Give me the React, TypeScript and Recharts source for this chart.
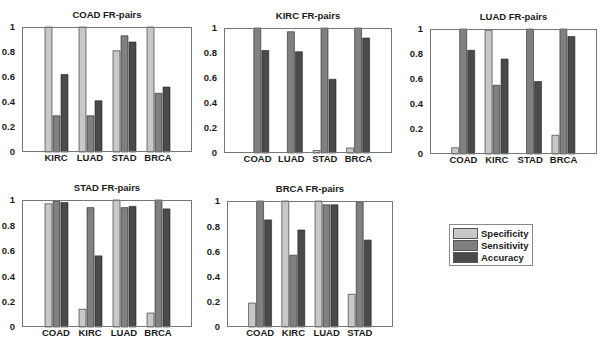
import { BarChart, Bar, XAxis, YAxis } from "recharts";

// one array per panel: [specificity, sensitivity, accuracy] for each paired cancer
const coadPairs = ["KIRC", "LUAD", "STAD", "BRCA"];
const coadSpecificity = [1, 1, 0.81, 1];
const coadSensitivity = [0.29, 0.29, 0.93, 0.47];
const coadAccuracy = [0.62, 0.41, 0.88, 0.52];

const kircPairs = ["COAD", "LUAD", "STAD", "BRCA"];
const kircSpecificity = [0, 0, 0.02, 0.04];
const kircSensitivity = [1, 0.97, 1, 1];
const kircAccuracy = [0.82, 0.81, 0.59, 0.92];

const luadPairs = ["COAD", "KIRC", "STAD", "BRCA"];
const luadSpecificity = [0.05, 0.99, 0, 0.15];
const luadSensitivity = [1, 0.55, 1, 1];
const luadAccuracy = [0.83, 0.76, 0.58, 0.94];

const stadPairs = ["COAD", "KIRC", "LUAD", "BRCA"];
const stadSpecificity = [0.97, 0.14, 1, 0.11];
const stadSensitivity = [0.99, 0.94, 0.94, 1];
const stadAccuracy = [0.98, 0.56, 0.95, 0.93];

const brcaPairs = ["COAD", "KIRC", "LUAD", "STAD"];
const brcaSpecificity = [0.19, 1, 1, 0.26];
const brcaSensitivity = [1, 0.57, 0.97, 0.99];
const brcaAccuracy = [0.85, 0.77, 0.97, 0.69];

const yTicks = [0, 0.2, 0.4, 0.6, 0.8, 1];
const seriesNames = ["Specificity", "Sensitivity", "Accuracy"];
const seriesColors = ["#c8c8c8", "#808080", "#4a4a4a"];

const FONT = '"Liberation Sans", Arial, sans-serif';
const Y_AXIS_W = 24;
const X_AXIS_H = 12;
const TITLE_H = 20;

type PanelProps = {
  title: string;
  cats: string[];
  spec: number[];
  sens: number[];
  acc: number[];
  x: number; // plot area left/top in page px
  y: number;
  w: number;
  h: number;
};

function Panel({ title, cats, spec, sens, acc, x, y, w, h }: PanelProps) {
  const data = cats.map((c, i) => ({ name: c, spec: spec[i], sens: sens[i], acc: acc[i] }));
  const tickStyle = { fontSize: 9.5, fontWeight: 700, fill: "#1a1a1a", fontFamily: FONT };
  const pad = w / 10;

  return (
    <>
      <div
        style={{
          position: "absolute",
          left: x,
          top: y - 17,
          width: w,
          textAlign: "center",
          fontSize: 9.5,
          fontWeight: 700,
          lineHeight: 1,
          color: "#1a1a1a",
          fontFamily: FONT,
        }}
      >
        {title}
      </div>
      <div style={{ position: "absolute", left: x - Y_AXIS_W, top: y - TITLE_H }}>
        <BarChart
          width={w + Y_AXIS_W + 2}
          height={h + TITLE_H + X_AXIS_H}
          data={data}
          margin={{ top: TITLE_H, right: 2, left: 0, bottom: 0 }}
          barSize={7}
          barGap={1}
        >
          <XAxis
            dataKey="name"
            height={X_AXIS_H}
            padding={{ left: pad, right: pad }}
            tickLine={false}
            axisLine={false}
            tick={tickStyle}
            tickSize={0}
            tickMargin={2}
            interval={0}
          />
          <YAxis
            width={Y_AXIS_W}
            domain={[0, 1]}
            ticks={yTicks}
            tickFormatter={(v: number) => String(Math.round(v * 10) / 10)}
            tickLine={false}
            axisLine={false}
            tick={tickStyle}
            tickSize={0}
            tickMargin={7}
            interval={0}
          />
          <Bar dataKey="spec" fill={seriesColors[0]} stroke="#222" strokeWidth={0.6} isAnimationActive={false} />
          <Bar dataKey="sens" fill={seriesColors[1]} stroke="#222" strokeWidth={0.6} isAnimationActive={false} />
          <Bar dataKey="acc" fill={seriesColors[2]} stroke="#222" strokeWidth={0.6} isAnimationActive={false} />
        </BarChart>
      </div>
      <div
        style={{
          position: "absolute",
          left: x,
          top: y,
          width: w,
          height: h,
          border: "1px solid #777",
          boxSizing: "border-box",
          pointerEvents: "none",
        }}
      />
    </>
  );
}

function LegendBox() {
  return (
    <div
      style={{
        position: "absolute",
        left: 449,
        top: 224,
        width: 84,
        height: 42,
        border: "1px solid #888",
        boxSizing: "border-box",
        padding: "2px 3px",
        fontFamily: FONT,
        fontSize: 9.5,
        fontWeight: 700,
        color: "#1a1a1a",
      }}
    >
      {seriesNames.map((n, i) => (
        <div key={n} style={{ display: "flex", alignItems: "center", height: 12.3 }}>
          <span
            style={{
              display: "inline-block",
              width: 25,
              height: 11,
              background: seriesColors[i],
              border: "1px solid #555",
              boxSizing: "border-box",
              marginRight: 3,
            }}
          />
          <span>{n}</span>
        </div>
      ))}
    </div>
  );
}

export default function App() {
  return (
    <div style={{ position: "fixed", left: 0, top: 0, width: 600, height: 338, background: "#fff", overflow: "hidden" }}>
      <Panel title="COAD FR-pairs" cats={coadPairs} spec={coadSpecificity} sens={coadSensitivity} acc={coadAccuracy} x={22} y={27} w={170} h={125} />
      <Panel title="KIRC FR-pairs" cats={kircPairs} spec={kircSpecificity} sens={kircSensitivity} acc={kircAccuracy} x={224} y={28} w={168} h={125} />
      <Panel title="LUAD FR-pairs" cats={luadPairs} spec={luadSpecificity} sens={luadSensitivity} acc={luadAccuracy} x={430} y={29} w={167} h={125} />
      <Panel title="STAD FR-pairs" cats={stadPairs} spec={stadSpecificity} sens={stadSensitivity} acc={stadAccuracy} x={22} y={200} w={170} h={127} />
      <Panel title="BRCA FR-pairs" cats={brcaPairs} spec={brcaSpecificity} sens={brcaSensitivity} acc={brcaAccuracy} x={227} y={201} w={166} h={126} />
      <LegendBox />
    </div>
  );
}
